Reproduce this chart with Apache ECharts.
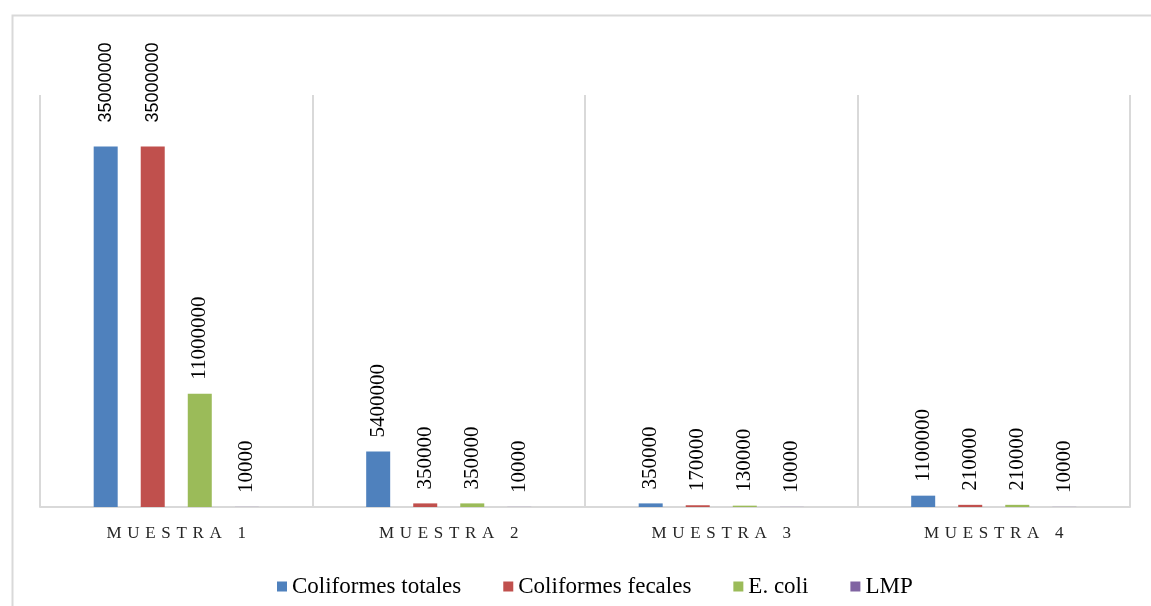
<!DOCTYPE html>
<html>
<head>
<meta charset="utf-8">
<script src="https://cdn.jsdelivr.net/npm/echarts@6/dist/echarts.min.js"></script>
<style>
  html, body { margin: 0; padding: 0; background: #fff; }
  #chart { width: 1151px; height: 606px; }
</style>
</head>
<body>
<div id="chart"></div>
<script>
// Muestras analizadas
const categories = ['MUESTRA 1', 'MUESTRA 2', 'MUESTRA 3', 'MUESTRA 4'];

// Resultados microbiológicos por muestra
const coliformesTotales = [35000000, 5400000, 350000, 1100000];
const coliformesFecales = [35000000, 350000, 170000, 210000];
const eColi = [11000000, 350000, 130000, 210000];
const lmp = [10000, 10000, 10000, 10000];

const seriesNames = ['Coliformes totales', 'Coliformes fecales', 'E. coli', 'LMP'];
const colors = ['#4F81BD', '#C0504D', '#9BBB59', '#8064A2'];

const SERIF = "'Liberation Serif', 'Times New Roman', serif";
const SANS = "'Liberation Sans', Arial, sans-serif";

const chart = echarts.init(document.getElementById('chart'));

// spaced-out capitals for the category labels
const spaced = v => v.split('').join(' \u200A');

const serifLabel = {
  show: true,
  position: 'top',
  rotate: 90,
  align: 'left',
  verticalAlign: 'middle',
  distance: 14,
  fontFamily: SERIF,
  fontSize: 21,
  color: '#000'
};

function makeSeries(name, values, color) {
  return {
    name: name,
    type: 'bar',
    barWidth: 24,
    barGap: '96%',
    itemStyle: { color: color },
    label: serifLabel,
    data: values.map(v => {
      if (v >= 30000000) {
        // the tallest bars carry a sans-serif value label
        return {
          value: v,
          label: { fontFamily: SANS, fontSize: 18, distance: 24 }
        };
      }
      return v;
    })
  };
}

chart.setOption({
  animation: false,
  backgroundColor: '#fff',
  graphic: [{
    type: 'rect',
    left: 10, top: 13,
    shape: { width: 1160, height: 620 },
    style: { fill: 'none', stroke: '#d9d9d9', lineWidth: 2 },
    silent: true
  }],
  grid: { left: 40, right: 21, top: 95, bottom: 99, containLabel: false },
  legend: {
    left: 272,
    top: 570,
    itemWidth: 10,
    itemHeight: 10,
    itemGap: 42,
    icon: 'rect',
    textStyle: { fontFamily: SERIF, fontSize: 23, color: '#000' },
    data: seriesNames
  },
  xAxis: {
    type: 'category',
    data: categories,
    boundaryGap: true,
    axisLine: { show: true, lineStyle: { color: '#d9d9d9', width: 2 } },
    axisTick: { show: false },
    splitLine: { show: true, lineStyle: { color: '#d9d9d9', width: 2 } },
    axisLabel: {
      margin: 18,
      fontFamily: SERIF,
      fontSize: 17,
      color: '#262626',
      formatter: spaced
    }
  },
  yAxis: {
    type: 'value',
    min: 0,
    max: 40000000,
    show: false,
    splitLine: { show: false }
  },
  series: [
    makeSeries(seriesNames[0], coliformesTotales, colors[0]),
    makeSeries(seriesNames[1], coliformesFecales, colors[1]),
    makeSeries(seriesNames[2], eColi, colors[2]),
    makeSeries(seriesNames[3], lmp, colors[3])
  ]
});
</script>
</body>
</html>
